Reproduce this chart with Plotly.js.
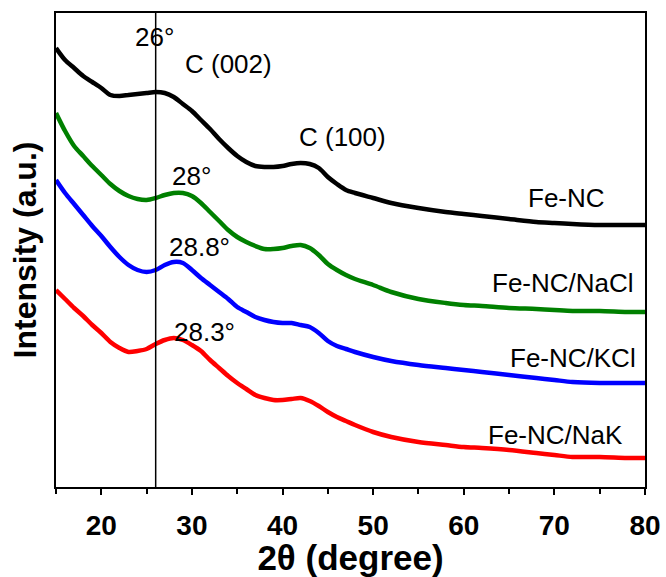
<!DOCTYPE html>
<html>
<head>
<meta charset="utf-8">
<script src="https://cdn.plot.ly/plotly-3.0.1.min.js"></script>
<style>html,body{margin:0;padding:0;background:#fff;}#chart{width:666px;height:577px;}</style>
</head>
<body>
<div id="chart"></div>
<script>
// 2θ positions (degree)
const twoTheta = [15,16,17,18,19,20,21,22,23,24,25,26,27,28,29,30,31,32,33,34,35,36,37,38,39,40,41,42,43,44,45,46,47,48,50,52,55,58,60,62,65,68,70,72,75,78,80];

// Intensities (a.u., stacked offsets as in the figure)
const feNC   = [439,427,419,411,405,399,392,391,392,393,394,395,394,390,383,376,367,358,348,339,331,325,321,320,320,321,323,324,323,319,310,303,297,294,289,284,279,275,273,271,268,265,264,263,262,262,262];
const feNaCl = [374,356,341,331,321,312,303,296,291,288,287,289,292,294,294,291,284,275,266,257,250,245,241,238,238,239,241,242,239,232,223,217,212,208,202,195,188,184,182,181,179,178,177,176,176,175,175];
const feKCl  = [307,294,283,272,261,251,240,230,222,217,215,217,222,225,224,217,209,202,195,188,180,175,170,167,165,164,164,162,160,154,146,141,138,135,130,126,122,119,117,115,112,109,107,105,104,104,104];
const feNaK  = [197,188,179,171,162,154,145,139,135,136,138,143,147,149,147,142,136,127,119,111,104,98,92,89,87,87,88,89,86,81,75,70,66,62,55,50,45,42,40,39,37,34,32,30,30,29,29];

const seriesNames = ['Fe-NC','Fe-NC/NaCl','Fe-NC/KCl','Fe-NC/NaK'];
const seriesData = [feNC, feNaCl, feKCl, feNaK];
const seriesColors = ['#000000','#008000','#0000ff','#ff0000'];

const refLine = 26;

// annotation labels
const labelTexts = ['26°','C (002)','C (100)','Fe-NC','Fe-NC/NaCl','Fe-NC/KCl','Fe-NC/NaK','28°','28.8°','28.3°'];
const labelX = [25.83, 34.0, 46.6, 71.35, 71.0, 72.0, 70.1, 30.0, 30.8, 31.35];
const labelY = [450, 423, 350, 289, 204, 129, 52, 311, 240, 155];

const traces = seriesData.map((d,i)=>({
  x: twoTheta, y: d, type:'scatter', mode:'lines', name: seriesNames[i],
  line:{color: seriesColors[i], width:4.5, shape:'spline', smoothing:0.8}, showlegend:false
}));

const annFont = {family:'Arial, "Liberation Sans", sans-serif', size:26, color:'#000'};
const annotations = labelTexts.map((t,i)=>({
  x: labelX[i], y: labelY[i], xref:'x', yref:'y', text: t, showarrow:false,
  font: annFont, xanchor:'center', yanchor:'middle'
}));

const layout = {
  width:666, height:577,
  margin:{l:56, r:21, t:13, b:90},
  paper_bgcolor:'#fff', plot_bgcolor:'#fff',
  xaxis:{
    range:[15,80], tickvals:[20,30,40,50,60,70,80],
    ticks:'outside', ticklen:6, tickwidth:2, tickcolor:'#000',
    minor:{tickvals:[15,25,35,45,55,65,75], ticks:'outside', ticklen:5, tickwidth:2, tickcolor:'#000'},
    showline:true, linewidth:2, linecolor:'#000', mirror:true,
    showgrid:false, zeroline:false,
    ticklabelstandoff:6,
    tickfont:{family:'Arial, "Liberation Sans", sans-serif', size:28, color:'#000', weight:'bold'},
    title:{text:'2θ (degree)', standoff:4,
      font:{family:'Arial, "Liberation Sans", sans-serif', size:35, color:'#000', weight:'bold'}}
  },
  yaxis:{
    range:[0,474], showticklabels:false, ticks:'',
    showline:true, linewidth:2, linecolor:'#000', mirror:true,
    showgrid:false, zeroline:false,
    title:{text:'Intensity (a.u.)', standoff:8,
      font:{family:'Arial, "Liberation Sans", sans-serif', size:32, color:'#000', weight:'bold'}}
  },
  shapes:[{type:'line', xref:'x', yref:'paper', x0:refLine, x1:refLine, y0:0, y1:1,
    line:{color:'#000', width:1.5}}],
  annotations: annotations
};

Plotly.newPlot('chart', traces, layout, {displayModeBar:false, staticPlot:true});
</script>
</body>
</html>
